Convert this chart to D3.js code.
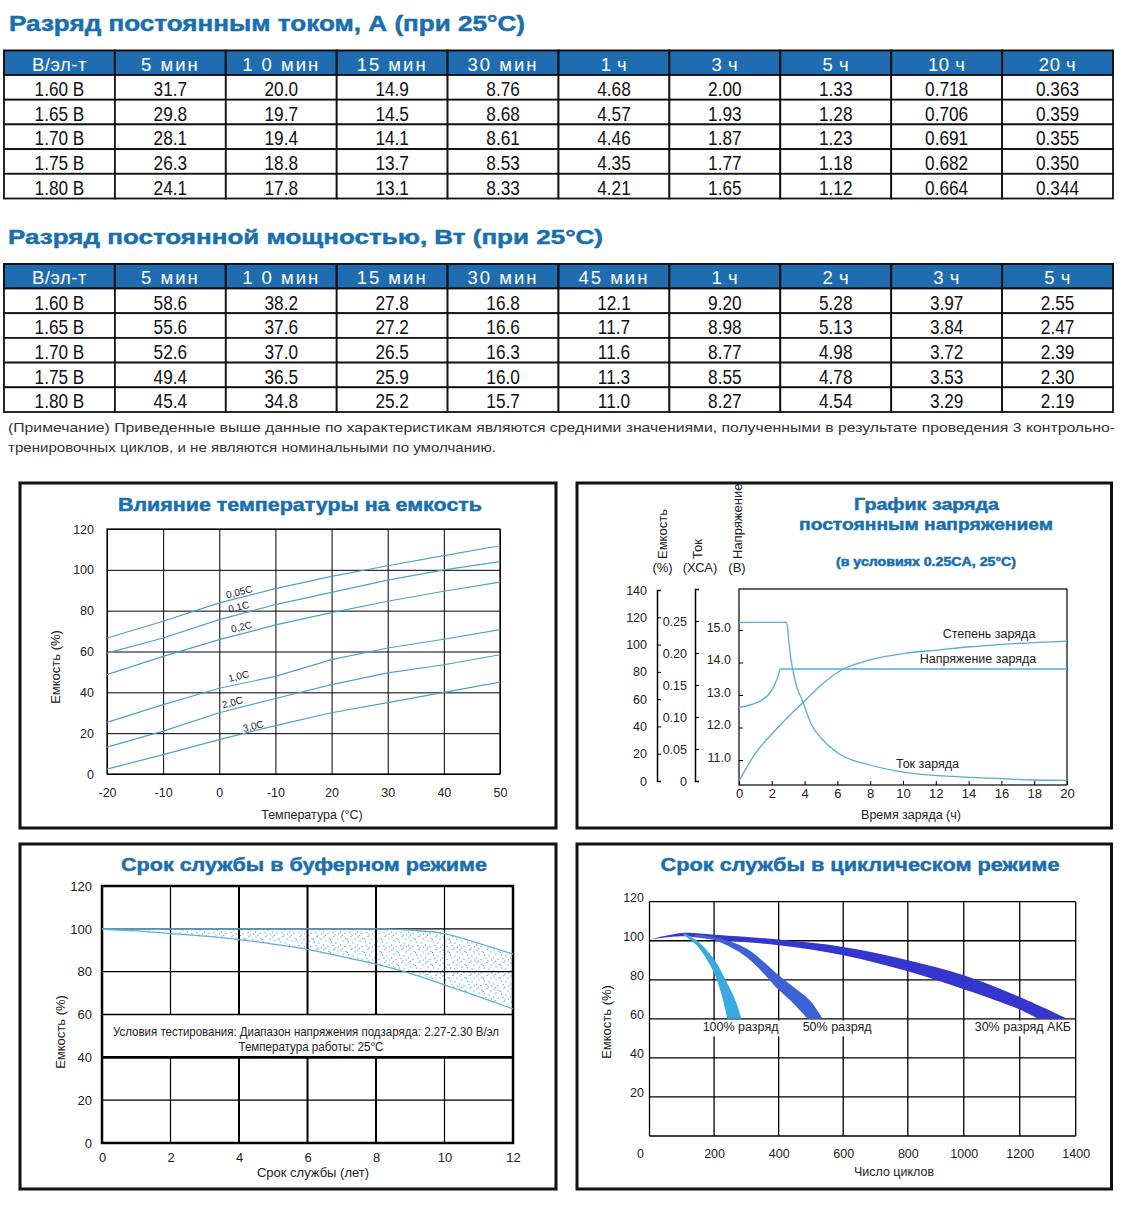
<!DOCTYPE html>
<html><head><meta charset="utf-8">
<script src="https://cdn.jsdelivr.net/npm/d3@7"></script>
<style>body{margin:0;background:#fff}svg{display:block}text{font-family:"Liberation Sans",Arial,sans-serif}</style>
</head><body>
<script>
// ---------------- DATA ----------------
const tbl1Title = "Разряд постоянным током, А (при 25°C)";
const tbl1Cols = ["В/эл-т","5 мин","1 0 мин","15 мин","30 мин","1 ч","3 ч","5 ч","10 ч","20 ч"];
const voltRows = ["1.60 В","1.65 В","1.70 В","1.75 В","1.80 В"];
const tbl1Vals = [
  ["31.7","20.0","14.9","8.76","4.68","2.00","1.33","0.718","0.363"],
  ["29.8","19.7","14.5","8.68","4.57","1.93","1.28","0.706","0.359"],
  ["28.1","19.4","14.1","8.61","4.46","1.87","1.23","0.691","0.355"],
  ["26.3","18.8","13.7","8.53","4.35","1.77","1.18","0.682","0.350"],
  ["24.1","17.8","13.1","8.33","4.21","1.65","1.12","0.664","0.344"]
];
const tbl2Title = "Разряд постоянной мощностью, Вт (при 25°C)";
const tbl2Cols = ["В/эл-т","5 мин","1 0 мин","15 мин","30 мин","45 мин","1 ч","2 ч","3 ч","5 ч"];
const tbl2Vals = [
  ["58.6","38.2","27.8","16.8","12.1","9.20","5.28","3.97","2.55"],
  ["55.6","37.6","27.2","16.6","11.7","8.98","5.13","3.84","2.47"],
  ["52.6","37.0","26.5","16.3","11.6","8.77","4.98","3.72","2.39"],
  ["49.4","36.5","25.9","16.0","11.3","8.55","4.78","3.53","2.30"],
  ["45.4","34.8","25.2","15.7","11.0","8.27","4.54","3.29","2.19"]
];
const noteLines = [
  "(Примечание) Приведенные выше данные по характеристикам являются средними значениями, полученными в результате проведения 3 контрольно-",
  "тренировочных циклов, и не являются номинальными по умолчанию."
];

// chart 1: temperature vs capacity
const chart1Title = "Влияние температуры на емкость";
const tempTicks = [-20,-10,0,10,20,30,40,50];
const tempTickLabels = ["-20","-10","0","-10","20","30","40","50"];
const capTicks = [0,20,40,60,80,100,120];
const tempX = [-20,-10,0,10,20,30,40,50];
const cap005 = [66.6,74.8,83.8,90.8,96.8,102,107,111.8];
const cap01  = [59.2,66.6,75.6,83,89,95,100,104];
const cap02  = [48.7,57.6,65.8,73,79,84.6,89.5,94];
const cap10  = [25.3,34,42,47.8,56,61.7,66,70.7];
const cap20  = [13.2,21,30,37,43.8,49.5,53.5,58.4];
const cap30  = [2.4,9.5,16.8,23.7,30,35,40,45];
const rateNames = ["0,05C","0,1C","0,2C","1,0C","2,0C","3,0C"];
const rateLabelT = [3.7,3.6,4.1,3.6,2.5,6.2];
const rateLabelC = [89.3,81.9,72.1,48,35.2,23.5];

// chart 2: constant voltage charge
const chart2Title = ["График заряда","постоянным напряжением","(в условиях 0.25CA, 25°C)"];
const timeTicks = [0,2,4,6,8,10,12,14,16,18,20];
const capAxisTicks = [0,20,40,60,80,100,120,140];
const curAxisTicks = [0,0.05,0.10,0.15,0.20,0.25,0.30];
const voltAxisTicks = [11,12,13,14,15];
const curT = [0,2.9,3.05,3.2,3.35,3.55,3.85,4.38,5.12,6.07,7.98,10.1,12.1,14.1,16.0,17.9,20];
const curV = [0.248,0.248,0.215,0.185,0.165,0.145,0.127,0.09,0.064,0.043,0.025,0.0136,0.0083,0.0058,0.0036,0.0016,0.001];
const voltT = [0,1.42,2.0,2.2,2.37,2.52,20];
const voltV = [12.62,12.85,13.15,13.35,13.55,13.8,13.8];
const socT = [0,1.0,2.05,3.11,3.96,5.02,6.07,7.98,10.1,12.1,14.1,16.1,20];
const socV = [0,20.3,35,48.4,58.1,70.4,80.1,88.7,93.6,96,98.4,100.2,102.6];
const chart2Series = ["Степень заряда","Напряжение заряда","Ток заряда"];

// chart 3: float service life
const chart3Title = "Срок службы в буферном режиме";
const yearTicks = [0,2,4,6,8,10,12];
const bufYears = [0,1,2,3,4,5,6,7,8,9,10,11,12];
const bufUpper = [100,100,100,100,100,100,100,100,100,99.4,97.8,93.2,88.2];
const bufLower = [99.8,99,97.8,96.6,95,92.9,90.4,87,83.5,79.2,73.8,68.3,62.6];
const bufNote = ["Условия тестирования: Диапазон напряжения подзаряда: 2.27-2.30 В/эл","Температура работы: 25°C"];

// chart 4: cycle service life
const chart4Title = "Срок службы в циклическом режиме";
const cycleTicks = [0,200,400,600,800,1000,1200,1400];
const cap4Ticks = [20,40,60,80,100,120];
const band30Upper = [[0,100.6],[100,104],[200,103.1],[400,100.6],[600,96.8],[800,90],[1000,82.3],[1200,71.2],[1371,60]];
const band30Lower = [[0,100.6],[100,102.3],[200,100.6],[400,97.7],[600,92.6],[800,84.4],[1000,75.2],[1200,64.8],[1266,60]];
const band50Upper = [[140,103.2],[202,101.9],[300,96],[399,82.5],[448,76],[499,69],[536,60]];
const band50Lower = [[140,102.2],[202,100.2],[300,91.7],[399,75],[448,67.5],[490,60]];
const band100Upper = [[105,103.8],[146,100.2],[202,90],[236,79.8],[266,69.5],[285,60]];
const band100Lower = [[105,103],[146,97.7],[196,84.9],[222,73],[241,60]];
const bandNames = ["100% разряд","50% разряд","30% разряд АКБ"];
const bandLabelX = [282,581,1211];
const bandLabelY = [55.9,55.9,55.9];

// ---------------- DRAW ----------------
const FONT = '"Liberation Sans", Arial, sans-serif';
const BLUE = "#1a6fae";
const HEAD = "#1f6db0";
const svg = d3.select("body").append("svg").attr("width",1122).attr("height",1208);
svg.append("rect").attr("width",1122).attr("height",1208).attr("fill","#fff");

function heading(g, text, x, y, size, len, anchor){
  g.append("text").attr("x",x).attr("y",y).attr("font-size",size).attr("font-weight","bold")
   .attr("fill",BLUE).attr("stroke",BLUE).attr("stroke-width",0.5)
   .attr("text-anchor",anchor||"start").attr("textLength",len).attr("lengthAdjust","spacingAndGlyphs").text(text);
}

function drawTable(cols, rows, vals, top){
  const hH = 24.5, rH = 24.7;
  const x = d3.scaleBand().domain(d3.range(cols.length)).range([4,1113]);
  const y = d3.scaleBand().domain(d3.range(rows.length)).range([top+hH, top+hH+rH*rows.length]);
  const g = svg.append("g");
  const hg = g.append("g");
  hg.selectAll("rect").data(cols).join("rect")
    .attr("x",(d,i)=>x(i)).attr("y",top).attr("width",x.bandwidth()).attr("height",hH)
    .attr("fill",HEAD).attr("stroke","#111").attr("stroke-width",2);
  hg.selectAll("text").data(cols).join("text")
    .attr("x",(d,i)=>x(i)+x.bandwidth()/2).attr("y",top+20)
    .attr("text-anchor","middle").attr("font-size",18.5).attr("fill","#fff")
    .attr("letter-spacing",d=>d.includes("мин")?2:0.5).text(d=>d);
  const cells = rows.flatMap((r,ri)=>[r,...vals[ri]].map((v,ci)=>({v,ri,ci})));
  const bg = g.append("g");
  bg.selectAll("rect").data(cells).join("rect")
    .attr("x",d=>x(d.ci)).attr("y",d=>y(d.ri)).attr("width",x.bandwidth()).attr("height",y.bandwidth())
    .attr("fill","#fff").attr("stroke","#111").attr("stroke-width",1.8);
  bg.selectAll("text").data(cells).join("text")
    .attr("transform",d=>`translate(${x(d.ci)+x.bandwidth()/2},${y(d.ri)+21})scale(0.84,1)`)
    .attr("text-anchor","middle").attr("font-size",20.5).attr("fill","#111").text(d=>d.v);
}

const tg = svg.append("g");
heading(tg, tbl1Title, 9, 31, 22, 516);
drawTable(tbl1Cols, voltRows, tbl1Vals, 50.5);
heading(tg, tbl2Title, 8, 244, 21, 595);
drawTable(tbl2Cols, voltRows, tbl2Vals, 264);
tg.append("text").attr("x",8).attr("y",432).attr("font-size",13.5).attr("fill","#333")
  .attr("textLength",1107).attr("lengthAdjust","spacingAndGlyphs").text(noteLines[0]);
tg.append("text").attr("x",8).attr("y",452).attr("font-size",13.5).attr("fill","#333")
  .attr("textLength",488).attr("lengthAdjust","spacingAndGlyphs").text(noteLines[1]);

// panels
[[20,483],[577,483],[20,844],[577,844]].forEach(([px,py],i)=>{
  svg.append("rect").attr("x",px).attr("y",py).attr("width",i%2?534.5:536).attr("height",345)
    .attr("fill","none").attr("stroke","#111").attr("stroke-width",3);
});

function styleAxis(sel, size){
  sel.attr("font-family",FONT).attr("font-size",size||12.5);
  sel.selectAll("text").attr("fill","#222");
  sel.selectAll("line").attr("stroke","#000");
}

// ---- chart 1 ----
{
  const g = svg.append("g");
  heading(g, chart1Title, 300, 510.5, 18.5, 364, "middle");
  const x = d3.scaleLinear().domain([-20,50]).range([107,500]);
  const y = d3.scaleLinear().domain([0,120]).range([774,529]);
  g.append("g").attr("transform","translate(0,774)")
    .call(d3.axisBottom(x).tickValues(tempTicks).tickFormat((d,i)=>tempTickLabels[i]).tickSize(-245).tickPadding(14))
    .call(a=>{a.select(".domain").remove(); styleAxis(a);});
  g.append("g").attr("transform","translate(107,0)")
    .call(d3.axisLeft(y).tickValues(capTicks).tickSize(-393).tickPadding(13))
    .call(a=>{a.select(".domain").remove(); styleAxis(a);});
  g.append("rect").attr("x",x(-20)).attr("y",y(120)).attr("width",x(50)-x(-20)).attr("height",y(0)-y(120))
    .attr("fill","none").attr("stroke","#000").attr("stroke-width",1.2);
  const line = d3.line().x((d,i)=>x(tempX[i])).y(d=>y(d));
  [cap005,cap01,cap02,cap10,cap20,cap30].forEach(s=>{
    g.append("path").attr("d",line(s)).attr("fill","none").attr("stroke","#4ba3c7").attr("stroke-width",1.2);
  });
  rateNames.forEach((n,i)=>{
    g.append("text").attr("transform",`translate(${x(rateLabelT[i])},${y(rateLabelC[i])+3.5})rotate(-14)`)
      .attr("text-anchor","middle").attr("font-size",10).attr("fill","#222").text(n);
  });
  g.append("text").attr("x",312).attr("y",818.5).attr("text-anchor","middle").attr("font-size",12.5).attr("fill","#222").text("Температура (°С)");
  g.append("text").attr("transform","translate(59.5,667)rotate(-90)").attr("text-anchor","middle").attr("font-size",13).attr("fill","#222").text("Емкость (%)");
}

// ---- chart 2 ----
{
  const g = svg.append("g");
  heading(g, chart2Title[0], 926.5, 509.5, 17, 145, "middle");
  heading(g, chart2Title[1], 926, 529.5, 17, 254, "middle");
  heading(g, chart2Title[2], 926, 566, 12, 180, "middle");
  const t = d3.scaleLinear().domain([0,20]).range([739,1067]);
  const cap = d3.scaleLinear().domain([0,140]).range([781,590]);
  const cur = d3.scaleLinear().domain([0,0.30]).range([781,589]);
  const volt = d3.scaleLinear().domain([11,15]).range([760,630]);
  g.append("rect").attr("x",739).attr("y",589).attr("width",t(20)-t(0)).attr("height",785-589)
    .attr("fill","none").attr("stroke","#000").attr("stroke-width",1.2);
  g.append("g").attr("transform","translate(657,0)")
    .call(d3.axisLeft(cap).tickValues(capAxisTicks).tickSize(-4).tickSizeOuter(-4).tickPadding(10))
    .call(a=>{styleAxis(a); a.select(".domain").attr("stroke","#000").attr("stroke-width",1.5);});
  g.append("g").attr("transform","translate(695,0)")
    .call(d3.axisLeft(cur).tickValues(curAxisTicks).tickSize(-4).tickSizeOuter(-4).tickPadding(8)
      .tickFormat(d=>d===0?"0":(d>0.29?"":d.toFixed(2))))
    .call(a=>{styleAxis(a); a.select(".domain").attr("stroke","#000").attr("stroke-width",1.5);});
  g.append("g").attr("transform","translate(739,0)")
    .call(d3.axisLeft(volt).tickValues(voltAxisTicks).tickSize(-4).tickPadding(8).tickFormat(d=>d.toFixed(1)))
    .call(a=>{a.select(".domain").remove(); styleAxis(a); a.selectAll("text").attr("dy","0.1em");});
  g.append("g").attr("transform","translate(0,785)")
    .call(d3.axisBottom(t).tickValues(timeTicks).tickSize(-4).tickPadding(3.5))
    .call(a=>{a.select(".domain").remove(); styleAxis(a, 13);});
  const col = "#58acd6";
  g.append("path").attr("d",d3.line().x((d,i)=>t(curT[i])).y(d=>cur(d)).curve(d3.curveMonotoneX)(curV))
    .attr("fill","none").attr("stroke",col).attr("stroke-width",1.3);
  g.append("path").attr("d",d3.line().x((d,i)=>t(voltT[i])).y(d=>volt(d)).curve(d3.curveMonotoneX)(voltV))
    .attr("fill","none").attr("stroke",col).attr("stroke-width",1.3);
  g.append("path").attr("d",d3.line().x((d,i)=>t(socT[i])).y(d=>cap(d)).curve(d3.curveMonotoneX)(socV))
    .attr("fill","none").attr("stroke",col).attr("stroke-width",1.3);
  const lab = [[989,638],[978,663],[927.5,768]];
  chart2Series.forEach((s,i)=>g.append("text").attr("x",lab[i][0]).attr("y",lab[i][1]).attr("text-anchor","middle")
    .attr("font-size",12.5).attr("fill","#222").text(s));
  const hdr = [["Емкость","(%)",666.5,662.5],["Ток","(ХСА)",701.5,700],["Напряжение","(В)",741.5,737]];
  hdr.forEach(h=>{
    g.append("text").attr("transform",`translate(${h[2]},559)rotate(-90)`).attr("font-size",13).attr("fill","#222").text(h[0]);
    g.append("text").attr("x",h[3]).attr("y",571.5).attr("text-anchor","middle").attr("font-size",13).attr("fill","#222").text(h[1]);
  });
  g.append("text").attr("x",911).attr("y",818.5).attr("text-anchor","middle").attr("font-size",12.5).attr("fill","#222").text("Время заряда (ч)");
}

// ---- chart 3 ----
{
  const g = svg.append("g");
  heading(g, chart3Title, 304, 870.5, 19, 366, "middle");
  const x = d3.scaleLinear().domain([0,12]).range([102,513]);
  const y = d3.scaleLinear().domain([0,120]).range([1143,886]);
  const defs = svg.append("defs");
  const pat = defs.append("pattern").attr("id","dots").attr("width",17).attr("height",13).attr("patternUnits","userSpaceOnUse");
  pat.append("rect").attr("width",17).attr("height",13).attr("fill","#fff");
  [[1,1],[6,2.5],[11,0.5],[15,3],[3,5],[8.5,6],[13,7],[0.5,9],[5,10.5],[10,9.5],[15.5,11],[2.5,12.5],[7.5,3.5],[12,12]]
    .forEach(c=>pat.append("circle").attr("cx",c[0]).attr("cy",c[1]).attr("r",0.7).attr("fill","#5aaad8"));
  g.append("path").attr("d",d3.area().x((d,i)=>x(bufYears[i])).y0((d,i)=>y(bufLower[i])).y1(d=>y(d)).curve(d3.curveMonotoneX)(bufUpper))
    .attr("fill","url(#dots)");
  const vx = yearTicks.filter(v=>v>0&&v<12);
  [[120,60],[40,0]].forEach(([a,b])=>{
    g.append("g").selectAll("line").data(vx).join("line")
      .attr("x1",d=>x(d)).attr("x2",d=>x(d)).attr("y1",y(a)).attr("y2",y(b))
      .attr("stroke","#000").attr("stroke-width",d=>(d===2||d===10)?1.2:2);
  });
  g.append("g").selectAll("line").data(capTicks.filter(v=>v>0&&v<120)).join("line")
    .attr("x1",x(0)).attr("x2",x(12)).attr("y1",d=>y(d)).attr("y2",d=>y(d))
    .attr("stroke","#000").attr("stroke-width",d=>d===40?2.8:1.3);
  g.append("rect").attr("x",x(0)).attr("y",y(120)).attr("width",x(12)-x(0)).attr("height",y(0)-y(120))
    .attr("fill","none").attr("stroke","#000").attr("stroke-width",2.5);
  const col = "#5fb0d8";
  g.append("path").attr("d",d3.line().x((d,i)=>x(bufYears[i])).y(d=>y(d)).curve(d3.curveMonotoneX)(bufUpper))
    .attr("fill","none").attr("stroke",col).attr("stroke-width",1.3);
  g.append("path").attr("d",d3.line().x((d,i)=>x(bufYears[i])).y(d=>y(d)).curve(d3.curveMonotoneX)(bufLower))
    .attr("fill","none").attr("stroke",col).attr("stroke-width",1.3);
  g.append("g").attr("transform","translate(0,1143)")
    .call(d3.axisBottom(x).tickValues(yearTicks).tickSize(0).tickPadding(9.5))
    .call(a=>{a.select(".domain").remove(); styleAxis(a,13);});
  g.append("g").attr("transform","translate(102,0)")
    .call(d3.axisLeft(y).tickValues(capTicks).tickSize(0).tickPadding(10))
    .call(a=>{a.select(".domain").remove(); styleAxis(a,13);});
  g.append("text").attr("x",306).attr("y",1036).attr("text-anchor","middle").attr("font-size",13).attr("fill","#222")
    .attr("textLength",386).attr("lengthAdjust","spacingAndGlyphs").text(bufNote[0]);
  g.append("text").attr("x",311).attr("y",1051).attr("text-anchor","middle").attr("font-size",13).attr("fill","#222")
    .attr("textLength",145).attr("lengthAdjust","spacingAndGlyphs").text(bufNote[1]);
  g.append("text").attr("x",313).attr("y",1177).attr("text-anchor","middle").attr("font-size",13).attr("fill","#222").text("Срок службы (лет)");
  g.append("text").attr("transform","translate(64.5,1032)rotate(-90)").attr("text-anchor","middle").attr("font-size",13).attr("fill","#222").text("Емкость (%)");
}

// ---- chart 4 ----
{
  const g = svg.append("g");
  heading(g, chart4Title, 860, 870.5, 19, 399, "middle");
  const x = d3.scaleLinear().domain([0,800,1400]).range([649.5,907.8,1075.7]);
  const y = d3.scaleLinear().domain([0,120]).range([1136,901.7]);
  g.append("g").selectAll("line").data(cycleTicks).join("line")
    .attr("x1",d=>x(d)).attr("x2",d=>x(d)).attr("y1",y(0)).attr("y2",y(120)).attr("stroke","#000").attr("stroke-width",1.3);
  g.append("g").selectAll("line").data([0,...cap4Ticks]).join("line")
    .attr("x1",x(0)).attr("x2",x(1400)).attr("y1",d=>y(d)).attr("y2",d=>y(d)).attr("stroke","#000").attr("stroke-width",1.3);
  const ln = d3.line().x(d=>x(d[0])).y(d=>y(d[1])).curve(d3.curveCatmullRom);
  const band = (u,l)=> ln(u) + ln(l.slice().reverse()).replace(/^M/,"L") + "Z";
  g.append("path").attr("d",band(band30Upper,band30Lower)).attr("fill","#3535cf");
  g.append("path").attr("d",band(band50Upper,band50Lower)).attr("fill","#3d62d6");
  g.append("path").attr("d",band(band100Upper,band100Lower)).attr("fill","#3aa9e2");
  const lg = g.append("g");
  bandNames.forEach((n,i)=>{
    const bgr = lg.append("rect").attr("fill","#fff");
    const t = lg.append("text").attr("x",x(bandLabelX[i])).attr("y",y(bandLabelY[i])+4.5).attr("text-anchor","middle")
      .attr("font-size",12.5).attr("fill","#222").text(n);
    const bb = t.node().getBBox();
    bgr.attr("x",bb.x-3).attr("y",y(60)+1.5).attr("width",bb.width+6).attr("height",16);
  });
  g.append("g").attr("transform","translate(0,1136)")
    .call(d3.axisBottom(x).tickValues(cycleTicks).tickFormat(d3.format("d")).tickSize(0).tickPadding(13.5))
    .call(a=>{a.select(".domain").remove(); styleAxis(a,12.5); a.selectAll("text").filter(d=>d===0).attr("dx",-9.5);});
  g.append("g").attr("transform","translate(649.5,0)")
    .call(d3.axisLeft(y).tickValues(cap4Ticks).tickSize(0).tickPadding(5.5))
    .call(a=>{a.select(".domain").remove(); styleAxis(a,12.5); a.selectAll("text").attr("dy","-0.05em");});
  g.append("text").attr("x",894).attr("y",1176).attr("text-anchor","middle").attr("font-size",12.5).attr("fill","#222").text("Число циклов");
  g.append("text").attr("transform","translate(610.5,1022)rotate(-90)").attr("text-anchor","middle").attr("font-size",13).attr("fill","#222").text("Емкость (%)");
}
</script>
</body></html>
